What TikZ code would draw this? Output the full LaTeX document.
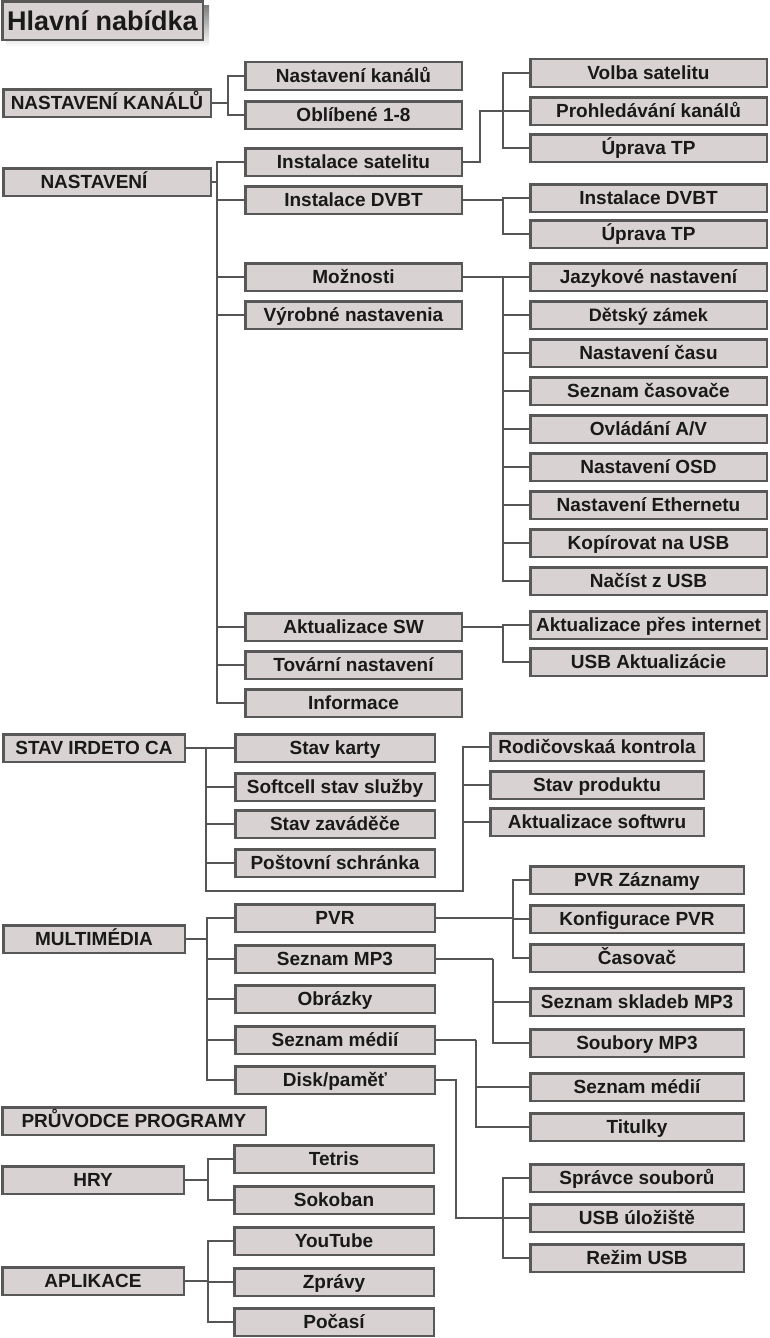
\documentclass[tikz,border=0pt]{standalone}
\usepackage{fontspec}
\setmainfont{Liberation Sans}
\usepackage{xcolor}
\usepackage{tikz}

\definecolor{boxfill}{RGB}{217,210,210}
\definecolor{boxline}{RGB}{88,88,88}
\definecolor{linkcol}{RGB}{85,85,85}
\definecolor{shade}{RGB}{125,125,125}
\definecolor{txt}{RGB}{25,25,25}

\begin{document}
\begin{tikzpicture}[x=1pt,y=1pt,yscale=-1,xscale=1,
  box/.style={draw=boxline,fill=boxfill,line width=2.5pt,anchor=west,minimum height=27.5pt,inner sep=0pt,text height=13.7pt,text depth=0pt,text=txt,font=\bfseries\fontsize{19}{22}\selectfont},
  titlebox/.style={box,minimum width=200.5pt,minimum height=38.5pt,text height=19.5pt,font=\bfseries\fontsize{27}{30}\selectfont},
  rootA/.style={box,minimum width=207.5pt},
  rootB/.style={box,minimum width=181.5pt},
  colA/.style={box,minimum width=216.5pt},
  colB/.style={box,minimum width=236.5pt},
  colC/.style={box,minimum width=199.5pt},
  colD/.style={box,minimum width=213.5pt},
  link/.style={draw=linkcol,line width=2pt,line join=miter}]
\useasboundingbox (0,0) rectangle (770,1338);

%Title with its shadow
\fill [shade] (6,6) rectangle (209,47);
\node [titlebox] (hn) at (1,21) {Hlavní nabídka};

%Main menu items
\node [rootA] (nk) at (2,103) {NASTAVENÍ KANÁLŮ};
\node [rootA] (ns) at (2,182) {NASTAVENÍ\kern26pt};
\node [rootB] (ir) at (2,748) {STAV IRDETO CA};
\node [rootB] (mm) at (2,939) {MULTIMÉDIA};
\node [box,minimum width=263.5pt] (pp) at (1,1121) {PRŮVODCE PROGRAMY};
\node [rootB] (hr) at (1,1180) {HRY};
\node [rootB] (ap) at (1,1281) {APLIKACE};

%NASTAVENÍ KANÁLŮ
\node [colA] (nk1) at (244,76) {Nastavení kanálů};
\node [colA] (nk2) at (244,115) {Oblíbené 1-8};

%NASTAVENÍ
\node [colA] (is) at (244,162) {Instalace satelitu};
\node [colA] (id) at (244,200) {Instalace DVBT};
\node [colA] (mo) at (244,277) {Možnosti};
\node [colA] (vn) at (244,315) {Výrobné nastavenia};
\node [colA] (as) at (244,627) {Aktualizace SW};
\node [colA] (tn) at (244,665) {Tovární nastavení};
\node [colA] (in) at (244,703) {Informace};

\node [colB] (vs) at (529,73) {Volba satelitu};
\node [colB] (pk) at (529,111) {Prohledávání kanálů};
\node [colB] (tp) at (529,148) {Úprava TP};
\node [colB] (dv) at (529,198) {Instalace DVBT};
\node [colB] (tp2) at (529,234) {Úprava TP};

\node [colB] (o1) at (529,277) {Jazykové nastavení};
\node [colB,font=\bfseries\fontsize{18}{21}\selectfont,text height=13pt] (o2) at (529,315) {Dětský zámek};
\node [colB] (o3) at (529,353) {Nastavení času};
\node [colB] (o4) at (529,391) {Seznam časovače};
\node [colB] (o5) at (529,429) {Ovládání A/V};
\node [colB] (o6) at (529,467) {Nastavení OSD};
\node [colB] (o7) at (529,505) {Nastavení Ethernetu};
\node [colB] (o8) at (529,543) {Kopírovat na USB};
\node [colB] (o9) at (529,581) {Načíst z USB};

\node [colB] (ai) at (529,625) {Aktualizace přes internet};
\node [colB] (ua) at (529,662) {USB Aktualizácie};

%STAV IRDETO CA
\node [colC] (sk) at (234,748) {Stav karty};
\node [colC] (ss) at (234,787) {Softcell stav služby};
\node [colC] (sz) at (234,824) {Stav zaváděče};
\node [colC] (ps) at (234,863) {Poštovní schránka};
\node [colD] (rk) at (489,747) {Rodičovskaá kontrola};
\node [colD] (sp) at (489,785) {Stav produktu};
\node [colD] (au) at (489,822) {Aktualizace softwru};

%MULTIMÉDIA
\node [colC] (pvr) at (234,918) {PVR};
\node [colC] (mp3) at (234,959) {Seznam MP3};
\node [colC] (obr) at (234,999) {Obrázky};
\node [colC] (smd) at (234,1040) {Seznam médií};
\node [colC] (dsk) at (234,1080) {Disk/paměť};

\node [colD] (pz) at (529,880) {PVR Záznamy};
\node [colD] (kp) at (529,919) {Konfigurace PVR};
\node [colD] (cs) at (529,958) {Časovač};
\node [colD] (sk3) at (529,1002) {Seznam skladeb MP3};
\node [colD] (sb3) at (529,1043) {Soubory MP3};
\node [colD] (smr) at (529,1087) {Seznam médií};
\node [colD] (tit) at (529,1127) {Titulky};
\node [colD] (spr) at (529,1178) {Správce souborů};
\node [colD] (usb) at (529,1218) {USB úložiště};
\node [colD] (rez) at (529,1258) {Režim USB};

%HRY
\node [colC] (tet) at (233,1159) {Tetris};
\node [colC] (sok) at (233,1200) {Sokoban};

%APLIKACE
\node [colC] (yt) at (233,1241) {YouTube};
\node [colC] (zp) at (233,1282) {Zprávy};
\node [colC] (po) at (233,1322) {Počasí};

%Trunk points
\coordinate (tNK) at (228,103);
\coordinate (tNS) at (217,182);
\coordinate (jIS) at (480,111);
\coordinate (tIS) at (503,111);
\coordinate (tID) at (503,200);
\coordinate (tMO) at (503,277);
\coordinate (tAS) at (503,627);
\coordinate (tIR) at (206,748);
\coordinate (bIR) at (206,891);
\coordinate (cIR) at (463,891);
\coordinate (tMM) at (207,939);
\coordinate (tPV) at (513,918);
\coordinate (tM3) at (493,959);
\coordinate (tSM) at (476,1040);
\coordinate (tDK) at (456,1080);
\coordinate (jDK) at (503,1218);
\coordinate (tHR) at (208,1180);
\coordinate (tAP) at (208,1281);

%Connectors
\draw [link] (nk.east) -- (tNK);
\foreach \c in {nk1,nk2} \draw [link] (tNK) |- (\c.west);

\draw [link] (ns.east) -- (tNS);
\foreach \c in {is,id,mo,vn,as,tn,in} \draw [link] (tNS) |- (\c.west);

\draw [link] (is.east) -| (jIS) -- (pk.west);
\foreach \c in {vs,tp} \draw [link] (tIS) |- (\c.west);

\draw [link] (id.east) -- (tID);
\foreach \c in {dv,tp2} \draw [link] (tID) |- (\c.west);

\draw [link] (mo.east) -- (tMO);
\foreach \c in {o1,o2,o3,o4,o5,o6,o7,o8,o9} \draw [link] (tMO) |- (\c.west);

\draw [link] (as.east) -- (tAS);
\foreach \c in {ai,ua} \draw [link] (tAS) |- (\c.west);

\draw [link] (ir.east) -- (sk.west);
\foreach \c in {ss,sz,ps} \draw [link] (tIR) |- (\c.west);
\draw [link] (tIR) -- (bIR) -- (cIR) |- (rk.west);
\foreach \c in {sp,au} \draw [link] (cIR) |- (\c.west);

\draw [link] (mm.east) -- (tMM);
\foreach \c in {pvr,mp3,obr,smd,dsk} \draw [link] (tMM) |- (\c.west);

\draw [link] (pvr.east) -- (tPV);
\foreach \c in {pz,kp,cs} \draw [link] (tPV) |- (\c.west);

\draw [link] (mp3.east) -- (tM3);
\foreach \c in {sk3,sb3} \draw [link] (tM3) |- (\c.west);

\draw [link] (smd.east) -- (tSM);
\foreach \c in {smr,tit} \draw [link] (tSM) |- (\c.west);

\draw [link] (dsk.east) -- (tDK) |- (jDK);
\foreach \c in {spr,usb,rez} \draw [link] (jDK) |- (\c.west);

\draw [link] (hr.east) -- (tHR);
\foreach \c in {tet,sok} \draw [link] (tHR) |- (\c.west);

\draw [link] (ap.east) -- (tAP);
\foreach \c in {yt,zp,po} \draw [link] (tAP) |- (\c.west);

\end{tikzpicture}
\end{document}
